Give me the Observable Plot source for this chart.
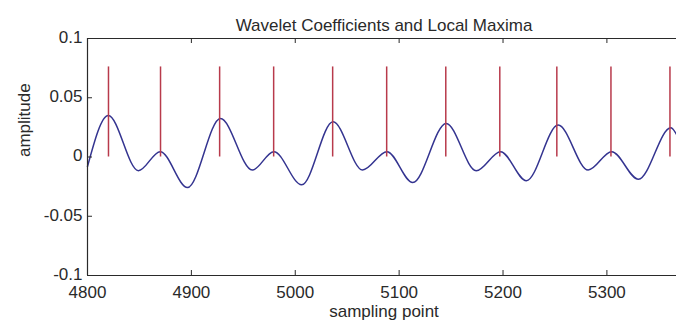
<!DOCTYPE html>
<html><head><meta charset="utf-8">
<script src="https://cdn.jsdelivr.net/npm/d3@7"></script>
<script src="https://cdn.jsdelivr.net/npm/@observablehq/plot@0.6"></script>
<style>body{margin:0;background:#fff}</style>
</head><body><div id="chart"></div>
<script>
const sampleX = [4800, 4820.0, 4849.0, 4870.0, 4896.3, 4928.0, 4958.6, 4979.4, 5006.2, 5036.4, 5064.8, 5088.3, 5113.1, 5145.3, 5174.2, 5197.7, 5222.5, 5253.1, 5282.0, 5304.6, 5330.4, 5361.6, 5367];
const amplitude = [-0.008, 0.035, -0.0115, 0.0045, -0.0258, 0.0325, -0.011, 0.0045, -0.0235, 0.0297, -0.011, 0.0045, -0.0216, 0.0283, -0.0115, 0.0045, -0.0200, 0.0269, -0.011, 0.0045, -0.0188, 0.0247, 0.019];
const maximaX = [4820.2, 4870.3, 4927.2, 4979.2, 5036.0, 5088.0, 5144.9, 5196.9, 5251.8, 5303.9, 5360.7];
const maximaTop = [0.076, 0.076, 0.076, 0.076, 0.076, 0.076, 0.076, 0.076, 0.076, 0.076, 0.076];
const xTicks = [4800, 4900, 5000, 5100, 5200, 5300];
const yTicks = [-0.1, -0.05, 0, 0.05, 0.1];
const titleText = "Wavelet Coefficients and Local Maxima";
const xLabel = "sampling point";
const yLabel = "amplitude";

const curve = sampleX.map((x, i) => ({x, y: amplitude[i]}));
const stems = maximaX.map((x, i) => ({x, y: maximaTop[i]}));
const axisColor = "#2a2a2a";

const chart = Plot.plot({
  width: 676, height: 324,
  marginLeft: 87, marginRight: 0, marginTop: 38, marginBottom: 49,
  style: {fontFamily: "'Liberation Sans', Arial, sans-serif", fontSize: "17px", background: "#fff", color: "#2a2a2a"},
  x: {domain: [4800, 5367], label: null},
  y: {domain: [-0.1, 0.1], label: null},
  marks: [
    Plot.line(curve, {x: "x", y: "y", curve: "monotone-x", stroke: "#343490", strokeWidth: 1.5}),
    Plot.ruleX(stems, {x: "x", y1: 0, y2: "y", stroke: "#b83a4b", strokeWidth: 1.5}),
    Plot.ruleY([yTicks[0], yTicks[yTicks.length - 1]], {stroke: axisColor, strokeWidth: 1.2}),
    Plot.ruleX([xTicks[0]], {stroke: axisColor, strokeWidth: 1.2}),
    Plot.tickX(xTicks, {x: d => d, insetTop: 232, stroke: axisColor}),
    Plot.tickX(xTicks, {x: d => d, insetBottom: 232, stroke: axisColor}),
    Plot.tickY(yTicks, {y: d => d, insetRight: 584, stroke: axisColor}),
    Plot.axisX(xTicks, {tickSize: 0, tickPadding: 10, tickFormat: d => String(d), label: null, fontSize: 17}),
    Plot.axisY(yTicks, {tickSize: 0, tickPadding: 5, dy: -1, tickFormat: d => String(d), label: null, fontSize: 17}),
    Plot.text([titleText], {text: d => d, frameAnchor: "top", dy: -20, dx: 2, fontSize: 17}),
    Plot.text([xLabel], {text: d => d, frameAnchor: "bottom", dy: 41, dx: 2, fontSize: 17}),
    Plot.text([yLabel], {text: d => d, frameAnchor: "left", dx: -63, rotate: -90, fontSize: 17})
  ]
});
document.getElementById("chart").appendChild(chart);
</script>
</body></html>
